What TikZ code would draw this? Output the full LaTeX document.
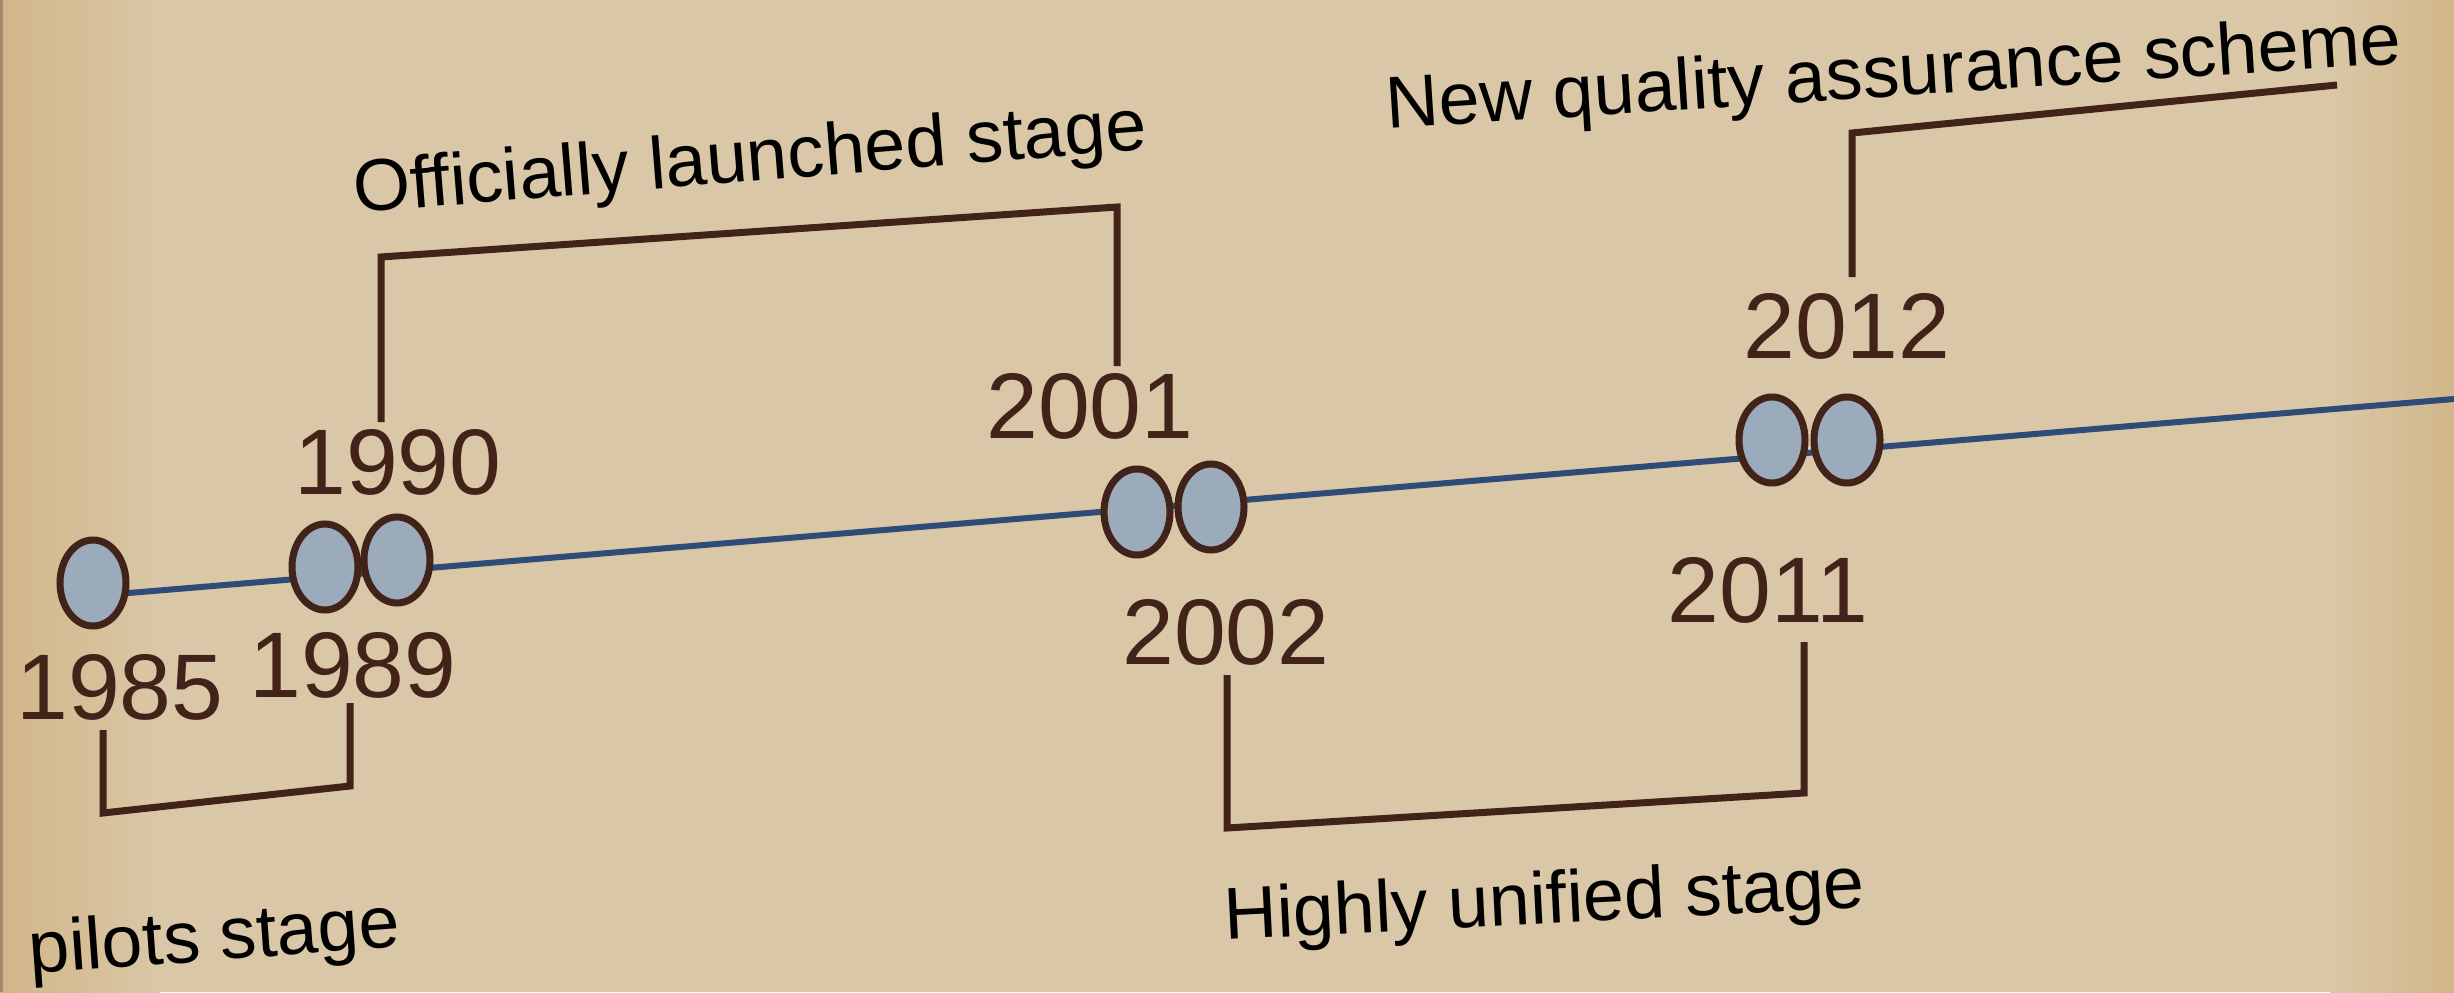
\documentclass[tikz,border=0pt]{standalone}
\usepackage{fontspec}
\setmainfont{Liberation Sans}
\usetikzlibrary{shapes.geometric}

\definecolor{paper}{HTML}{DAC7A7}
\definecolor{paperedge}{HTML}{D1B688}
\definecolor{ink}{HTML}{41231A}
\definecolor{dotfill}{HTML}{9BABBB}
\definecolor{lineblue}{HTML}{2F4B78}

\tikzset{
  event/.style={ellipse, draw=ink, line width=0.7mm, fill=dotfill,
    minimum width=6.6mm, minimum height=8.6mm, inner sep=0pt},
  yearlbl/.style={text=ink, font=\fontsize{26.5}{30}\selectfont, inner sep=0pt},
  stagelbl/.style={font=\fontsize{20.9}{24}\selectfont, inner sep=0pt, anchor=base west},
  bracketline/.style={draw=ink, line width=0.7mm}
}

\begin{document}
\begin{tikzpicture}
  % old paper
  \fill[paper] (0,0) rectangle (24.54,9.92);
  \shade[left color=paperedge, right color=paper] (0,0) rectangle (1.6,9.92);
  \shade[left color=paper, right color=paperedge] (23.3,0) rectangle (24.54,9.92);
  \fill[paperedge!55!black, opacity=.5] (0,0) rectangle (0.03,9.92);
  \useasboundingbox (0,0) rectangle (24.54,9.92);

  % time line
  \coordinate (tl-start) at (0.93,3.96);
  \coordinate (tl-end) at (24.54,5.93);
  \draw[lineblue, line width=0.6mm] (tl-start) -- (tl-end);

  % events
  \node[event] (e85) at (0.93,4.09) {};
  \node[event] (e89) at (3.25,4.25) {};
  \node[event] (e90) at (3.97,4.32) {};
  \node[event] (e01) at (11.37,4.80) {};
  \node[event] (e02) at (12.11,4.85) {};
  \node[event] (e11) at (17.72,5.52) {};
  \node[event] (e12) at (18.47,5.52) {};

  % years
  \node[yearlbl] (y85) at (1.20,3.05) {1985};
  \node[yearlbl] (y89) at (3.53,3.27) {1989};
  \node[yearlbl] (y90) at (3.98,5.30) {1990};
  \node[yearlbl] (y01) at (10.90,5.86) {2001};
  \node[yearlbl] (y02) at (12.26,3.60) {2002};
  \node[yearlbl] (y11) at (17.68,4.02) {2011};
  \node[yearlbl] (y12) at (18.47,6.66) {2012};

  % stage brackets
  \draw[bracketline] (1.03,2.62) -- (1.03,1.79) -- (3.50,2.06) -- (3.50,2.89);
  \draw[bracketline] (3.81,5.70) -- (3.81,7.35) -- (11.17,7.85) -- (11.17,6.26);
  \draw[bracketline] (12.27,3.17) -- (12.27,1.64) -- (18.04,1.99) -- (18.04,3.50);
  \draw[bracketline] (18.52,7.15) -- (18.52,8.59) -- (23.37,9.07);

  % stage names
  \node[stagelbl, rotate=4.2] (pilots) at (0.30,0.18) {pilots stage};
  \node[stagelbl, rotate=4.6] (launch) at (3.55,7.79) {Officially launched stage};
  \node[stagelbl, rotate=2.9] (unified) at (12.25,0.52) {Highly unified stage};
  \node[stagelbl, rotate=3.7] (scheme) at (13.87,8.63) {New quality assurance scheme};
\end{tikzpicture}
\end{document}
